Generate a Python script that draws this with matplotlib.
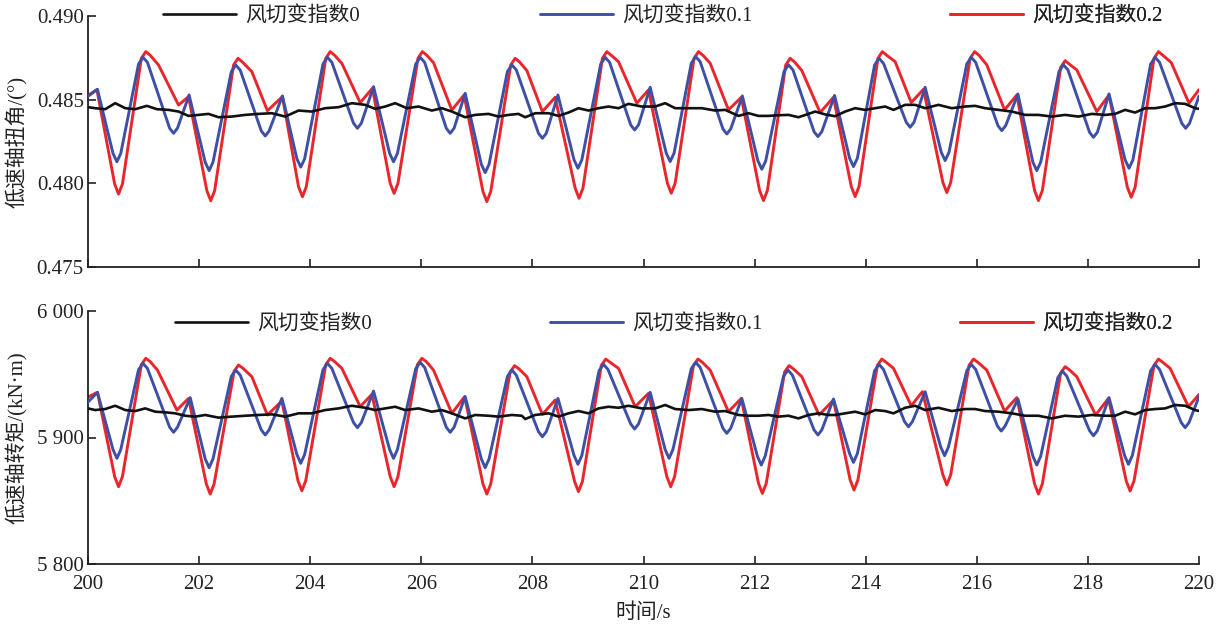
import matplotlib
matplotlib.use('Agg')
import matplotlib.pyplot as plt
from matplotlib.ticker import FuncFormatter, FixedLocator

plt.rcParams['font.family'] = ['Liberation Serif', 'Noto Sans CJK SC']
plt.rcParams['axes.unicode_minus'] = False

# ---------------- data: top panel, low-speed shaft torsion angle (deg) ----------------
t_ang_0 = [200.00, 200.13, 200.31, 200.49, 200.67, 200.85, 201.06, 201.24, 201.45, 201.63,
           201.81, 201.99, 202.17, 202.35, 202.59, 202.83, 203.07, 203.31, 203.55, 203.79,
           204.03, 204.27, 204.51, 204.75, 204.99, 205.17, 205.35, 205.53, 205.74, 205.95,
           206.19, 206.37, 206.55, 206.79, 206.97, 207.21, 207.39, 207.57, 207.75, 207.87,
           208.05, 208.29, 208.47, 208.65, 208.83, 209.01, 209.19, 209.37, 209.55, 209.73,
           209.97, 210.21, 210.39, 210.57, 210.81, 211.05, 211.29, 211.47, 211.71, 211.89,
           212.07, 212.25, 212.43, 212.61, 212.79, 212.97, 213.09, 213.27, 213.45, 213.63,
           213.81, 213.99, 214.17, 214.35, 214.50, 214.71, 214.89, 215.07, 215.31, 215.55,
           215.79, 215.97, 216.15, 216.39, 216.63, 216.87, 217.11, 217.35, 217.59, 217.83,
           218.07, 218.31, 218.49, 218.67, 218.85, 219.03, 219.21, 219.39, 219.57, 219.75,
           219.93, 220.00]
v_ang_0 = [0.48455, 0.48449, 0.48443, 0.48479, 0.48449, 0.48443, 0.48463, 0.48443, 0.48439, 0.48429,
           0.48403, 0.48409, 0.48415, 0.48395, 0.48399, 0.48409, 0.48415, 0.48419, 0.48399, 0.48435,
           0.48429, 0.48449, 0.48455, 0.48479, 0.48469, 0.48445, 0.48459, 0.48479, 0.48449, 0.48459,
           0.48435, 0.48449, 0.48429, 0.48395, 0.48409, 0.48415, 0.48399, 0.48409, 0.48415, 0.48395,
           0.48419, 0.48419, 0.48403, 0.48423, 0.48449, 0.48435, 0.48449, 0.48459, 0.48449, 0.48475,
           0.48459, 0.48459, 0.48479, 0.48449, 0.48449, 0.48449, 0.48435, 0.48439, 0.48403, 0.48419,
           0.48403, 0.48403, 0.48407, 0.48409, 0.48395, 0.48415, 0.48429, 0.48412, 0.48401, 0.48429,
           0.48449, 0.48439, 0.48449, 0.48459, 0.48439, 0.48469, 0.48469, 0.48449, 0.48469, 0.48449,
           0.48459, 0.48463, 0.48449, 0.48439, 0.48429, 0.48409, 0.48409, 0.48399, 0.48409, 0.48399,
           0.48415, 0.48409, 0.48415, 0.48439, 0.48423, 0.48449, 0.48449, 0.48459, 0.48479, 0.48475,
           0.48449, 0.48445]

t_ang_01 = [200.00, 200.17,
            200.45, 200.52, 200.59, 200.91, 200.99, 201.07, 201.47, 201.54, 201.61, 201.82,
            202.11, 202.18, 202.25, 202.58, 202.66, 202.74, 203.12, 203.19, 203.26, 203.50,
            203.76, 203.83, 203.90, 204.23, 204.31, 204.39, 204.78, 204.85, 204.92, 205.14,
            205.43, 205.50, 205.57, 205.90, 205.98, 206.06, 206.45, 206.52, 206.59, 206.79,
            207.08, 207.15, 207.22, 207.55, 207.63, 207.71, 208.11, 208.18, 208.25, 208.46,
            208.75, 208.82, 208.89, 209.23, 209.31, 209.39, 209.77, 209.84, 209.91, 210.12,
            210.41, 210.48, 210.55, 210.86, 210.94, 211.02, 211.43, 211.50, 211.57, 211.78,
            212.06, 212.13, 212.20, 212.53, 212.61, 212.69, 213.07, 213.14, 213.21, 213.44,
            213.71, 213.78, 213.85, 214.16, 214.24, 214.32, 214.73, 214.80, 214.87, 215.07,
            215.36, 215.43, 215.50, 215.82, 215.90, 215.98, 216.38, 216.45, 216.52, 216.74,
            217.01, 217.08, 217.15, 217.48, 217.56, 217.64, 218.03, 218.10, 218.17, 218.38,
            218.67, 218.74, 218.81, 219.13, 219.21, 219.29, 219.69, 219.76, 219.83, 220.00]
v_ang_01 = [0.48520, 0.48562,
            0.48179, 0.48129, 0.48179, 0.48713, 0.48753, 0.48723, 0.48329, 0.48299, 0.48329, 0.48528,
            0.48126, 0.48076, 0.48126, 0.48667, 0.48707, 0.48677, 0.48313, 0.48283, 0.48313, 0.48522,
            0.48147, 0.48097, 0.48147, 0.48713, 0.48753, 0.48723, 0.48359, 0.48329, 0.48359, 0.48578,
            0.48179, 0.48129, 0.48179, 0.48713, 0.48753, 0.48723, 0.48329, 0.48299, 0.48329, 0.48538,
            0.48114, 0.48064, 0.48114, 0.48668, 0.48708, 0.48678, 0.48299, 0.48269, 0.48299, 0.48528,
            0.48140, 0.48090, 0.48140, 0.48713, 0.48753, 0.48723, 0.48349, 0.48319, 0.48349, 0.48574,
            0.48180, 0.48130, 0.48180, 0.48717, 0.48757, 0.48727, 0.48325, 0.48295, 0.48325, 0.48522,
            0.48134, 0.48084, 0.48134, 0.48668, 0.48708, 0.48678, 0.48309, 0.48279, 0.48309, 0.48525,
            0.48150, 0.48100, 0.48150, 0.48707, 0.48747, 0.48717, 0.48365, 0.48335, 0.48365, 0.48574,
            0.48186, 0.48136, 0.48186, 0.48713, 0.48753, 0.48723, 0.48345, 0.48315, 0.48345, 0.48534,
            0.48126, 0.48076, 0.48126, 0.48668, 0.48708, 0.48678, 0.48305, 0.48275, 0.48305, 0.48534,
            0.48140, 0.48090, 0.48140, 0.48713, 0.48753, 0.48723, 0.48359, 0.48329, 0.48359, 0.48522]

t_ang_02 = [200.00, 200.16,
            200.48, 200.55, 200.62, 200.96, 201.04, 201.12, 201.27, 201.63, 201.81,
            202.14, 202.21, 202.28, 202.62, 202.70, 202.78, 202.95, 203.23, 203.50,
            203.79, 203.86, 203.93, 204.28, 204.36, 204.44, 204.57, 204.90, 205.12,
            205.44, 205.51, 205.58, 205.94, 206.02, 206.10, 206.22, 206.55, 206.77,
            207.11, 207.18, 207.25, 207.61, 207.69, 207.77, 207.90, 208.18, 208.41,
            208.77, 208.84, 208.91, 209.26, 209.34, 209.42, 209.55, 209.88, 210.09,
            210.43, 210.50, 210.57, 210.91, 210.99, 211.07, 211.20, 211.53, 211.76,
            212.09, 212.16, 212.23, 212.56, 212.64, 212.72, 212.85, 213.18, 213.42,
            213.74, 213.81, 213.88, 214.22, 214.30, 214.38, 214.53, 214.82, 215.04,
            215.39, 215.46, 215.53, 215.88, 215.96, 216.04, 216.18, 216.50, 216.72,
            217.04, 217.11, 217.18, 217.51, 217.59, 217.67, 217.80, 218.16, 218.38,
            218.71, 218.78, 218.85, 219.19, 219.27, 219.35, 219.50, 219.82, 220.00]
v_ang_02 = [0.48525, 0.48560,
            0.47996, 0.47936, 0.47996, 0.48747, 0.48787, 0.48765, 0.48707, 0.48468, 0.48518,
            0.47956, 0.47896, 0.47956, 0.48707, 0.48747, 0.48725, 0.48667, 0.48434, 0.48518,
            0.47980, 0.47920, 0.47980, 0.48747, 0.48787, 0.48765, 0.48717, 0.48482, 0.48568,
            0.48000, 0.47940, 0.48000, 0.48747, 0.48787, 0.48765, 0.48721, 0.48438, 0.48528,
            0.47951, 0.47891, 0.47951, 0.48707, 0.48747, 0.48725, 0.48674, 0.48429, 0.48514,
            0.47971, 0.47911, 0.47971, 0.48747, 0.48787, 0.48765, 0.48727, 0.48479, 0.48558,
            0.48001, 0.47941, 0.48001, 0.48747, 0.48787, 0.48765, 0.48718, 0.48439, 0.48514,
            0.47957, 0.47897, 0.47957, 0.48707, 0.48747, 0.48725, 0.48674, 0.48423, 0.48514,
            0.47981, 0.47921, 0.47981, 0.48747, 0.48787, 0.48765, 0.48727, 0.48483, 0.48562,
            0.48005, 0.47945, 0.48005, 0.48747, 0.48787, 0.48765, 0.48708, 0.48439, 0.48528,
            0.47957, 0.47897, 0.47957, 0.48693, 0.48733, 0.48711, 0.48678, 0.48429, 0.48528,
            0.47977, 0.47917, 0.47977, 0.48747, 0.48787, 0.48765, 0.48722, 0.48479, 0.48560]

# ---------------- data: bottom panel, low-speed shaft torque (kN·m) ----------------
t_trq_0 = [200.00, 200.13, 200.31, 200.49, 200.67, 200.85, 201.03, 201.21, 201.39, 201.57,
           201.75, 201.93, 202.11, 202.35, 202.59, 202.83, 203.07, 203.31, 203.55, 203.79,
           204.03, 204.27, 204.51, 204.75, 204.99, 205.17, 205.35, 205.53, 205.71, 205.95,
           206.19, 206.37, 206.55, 206.79, 206.97, 207.21, 207.39, 207.63, 207.81, 207.87,
           208.05, 208.29, 208.47, 208.65, 208.83, 209.01, 209.19, 209.37, 209.55, 209.73,
           209.97, 210.21, 210.39, 210.57, 210.81, 211.05, 211.29, 211.47, 211.71, 211.89,
           212.07, 212.25, 212.43, 212.61, 212.79, 212.97, 213.15, 213.33, 213.45, 213.63,
           213.81, 213.99, 214.17, 214.35, 214.50, 214.71, 214.89, 215.07, 215.31, 215.55,
           215.79, 215.97, 216.15, 216.39, 216.63, 216.87, 217.11, 217.35, 217.59, 217.83,
           218.07, 218.31, 218.49, 218.67, 218.85, 219.03, 219.21, 219.39, 219.57, 219.75,
           219.93, 220.00]
v_trq_0 = [5923.0, 5921.7, 5922.5, 5925.1, 5921.7, 5920.9, 5923.0, 5920.4, 5919.9, 5919.1,
           5917.2, 5916.5, 5917.8, 5915.7, 5916.5, 5917.2, 5917.8, 5918.3, 5916.5, 5919.1,
           5919.1, 5921.7, 5923.0, 5925.1, 5923.5, 5921.7, 5923.0, 5924.3, 5921.7, 5923.0,
           5920.4, 5921.7, 5919.1, 5915.1, 5917.8, 5917.2, 5916.5, 5917.8, 5917.2, 5914.6,
           5917.8, 5919.1, 5916.5, 5919.1, 5920.9, 5919.1, 5923.0, 5924.3, 5923.5, 5925.1,
           5923.0, 5923.0, 5925.7, 5922.5, 5921.7, 5922.5, 5920.4, 5920.9, 5917.8, 5917.2,
           5917.2, 5917.8, 5916.5, 5917.2, 5915.1, 5917.8, 5919.1, 5917.8, 5917.8, 5919.1,
           5920.4, 5918.3, 5921.7, 5920.9, 5919.1, 5923.5, 5925.1, 5921.7, 5923.5, 5920.9,
           5922.5, 5922.5, 5920.9, 5920.4, 5919.1, 5917.2, 5917.2, 5915.1, 5917.2, 5916.5,
           5917.8, 5917.2, 5917.2, 5920.4, 5918.3, 5921.7, 5922.5, 5923.0, 5925.7, 5925.1,
           5921.7, 5921.0]

t_trq_01 = [200.00, 200.17,
            200.45, 200.52, 200.59, 200.91, 200.99, 201.07, 201.47, 201.54, 201.61, 201.84,
            202.11, 202.18, 202.25, 202.58, 202.66, 202.74, 203.12, 203.19, 203.26, 203.49,
            203.76, 203.83, 203.90, 204.23, 204.31, 204.39, 204.78, 204.85, 204.92, 205.14,
            205.43, 205.50, 205.57, 205.90, 205.98, 206.06, 206.45, 206.52, 206.59, 206.79,
            207.08, 207.15, 207.22, 207.55, 207.63, 207.71, 208.11, 208.18, 208.25, 208.46,
            208.75, 208.82, 208.89, 209.20, 209.28, 209.36, 209.77, 209.84, 209.91, 210.12,
            210.39, 210.46, 210.53, 210.86, 210.94, 211.02, 211.43, 211.50, 211.57, 211.77,
            212.05, 212.12, 212.19, 212.52, 212.60, 212.68, 213.07, 213.14, 213.21, 213.42,
            213.71, 213.78, 213.85, 214.16, 214.24, 214.32, 214.70, 214.77, 214.84, 215.07,
            215.35, 215.42, 215.49, 215.82, 215.90, 215.98, 216.37, 216.44, 216.51, 216.74,
            217.01, 217.08, 217.15, 217.46, 217.54, 217.62, 218.03, 218.10, 218.17, 218.38,
            218.66, 218.73, 218.80, 219.13, 219.21, 219.29, 219.68, 219.75, 219.82, 220.00]
v_trq_01 = [5928.0, 5935.7,
            5890.5, 5883.5, 5890.5, 5953.6, 5958.6, 5954.6, 5908.1, 5904.1, 5908.1, 5931.5,
            5883.1, 5876.1, 5883.1, 5948.3, 5953.3, 5949.3, 5906.0, 5902.0, 5906.0, 5930.9,
            5886.6, 5879.6, 5886.6, 5953.6, 5958.6, 5954.6, 5911.8, 5907.8, 5911.8, 5936.7,
            5890.5, 5883.5, 5890.5, 5954.4, 5959.4, 5955.4, 5908.1, 5904.1, 5908.1, 5932.3,
            5883.1, 5876.1, 5883.1, 5948.3, 5953.3, 5949.3, 5904.6, 5900.6, 5904.6, 5930.9,
            5885.8, 5878.8, 5885.8, 5952.8, 5957.8, 5953.8, 5910.7, 5906.7, 5910.7, 5935.7,
            5890.5, 5883.5, 5890.5, 5954.4, 5959.4, 5955.4, 5907.3, 5903.3, 5907.3, 5930.9,
            5885.2, 5878.2, 5885.2, 5948.3, 5953.3, 5949.3, 5906.0, 5902.0, 5906.0, 5930.4,
            5887.3, 5880.3, 5887.3, 5952.8, 5957.8, 5953.8, 5912.5, 5908.5, 5912.5, 5936.2,
            5892.6, 5885.6, 5892.6, 5952.8, 5957.8, 5953.8, 5909.1, 5905.1, 5909.1, 5930.4,
            5885.2, 5878.2, 5885.2, 5947.5, 5952.5, 5948.5, 5905.4, 5901.4, 5905.4, 5931.5,
            5885.8, 5878.8, 5885.8, 5952.8, 5957.8, 5953.8, 5911.8, 5907.8, 5911.8, 5932.3]

t_trq_02 = [200.00, 200.17,
            200.48, 200.55, 200.62, 200.96, 201.04, 201.12, 201.25, 201.60, 201.81,
            202.13, 202.20, 202.27, 202.63, 202.71, 202.79, 202.95, 203.23, 203.49,
            203.78, 203.85, 203.92, 204.28, 204.36, 204.44, 204.57, 204.90, 205.11,
            205.44, 205.51, 205.58, 205.93, 206.01, 206.09, 206.22, 206.55, 206.78,
            207.11, 207.18, 207.25, 207.60, 207.68, 207.76, 207.90, 208.18, 208.41,
            208.76, 208.83, 208.90, 209.24, 209.32, 209.40, 209.55, 209.85, 210.09,
            210.42, 210.49, 210.56, 210.90, 210.98, 211.06, 211.20, 211.53, 211.76,
            212.07, 212.14, 212.21, 212.54, 212.62, 212.70, 212.85, 213.16, 213.42,
            213.72, 213.79, 213.86, 214.21, 214.29, 214.37, 214.50, 214.82, 215.02,
            215.39, 215.46, 215.53, 215.86, 215.94, 216.02, 216.18, 216.50, 216.72,
            217.04, 217.11, 217.18, 217.51, 217.59, 217.67, 217.80, 218.14, 218.37,
            218.69, 218.76, 218.83, 219.19, 219.27, 219.35, 219.48, 219.81, 220.00]
v_trq_02 = [5932.0, 5935.7,
            5869.1, 5861.1, 5869.1, 5957.6, 5962.6, 5960.0, 5953.3, 5921.7, 5930.9,
            5863.3, 5855.3, 5863.3, 5952.3, 5957.3, 5954.7, 5948.1, 5917.8, 5928.8,
            5865.9, 5857.9, 5865.9, 5957.6, 5962.6, 5960.0, 5954.7, 5924.4, 5934.1,
            5869.1, 5861.1, 5869.1, 5957.6, 5962.6, 5960.0, 5953.3, 5919.1, 5932.3,
            5863.3, 5855.3, 5863.3, 5951.8, 5956.8, 5954.2, 5948.1, 5918.3, 5929.6,
            5865.2, 5857.2, 5865.2, 5957.0, 5962.0, 5959.4, 5954.7, 5924.4, 5934.9,
            5869.1, 5861.1, 5869.1, 5957.0, 5962.0, 5959.4, 5953.3, 5920.4, 5930.9,
            5863.8, 5855.8, 5863.8, 5951.8, 5956.8, 5954.2, 5948.1, 5917.8, 5929.6,
            5866.5, 5858.5, 5866.5, 5957.0, 5962.0, 5959.4, 5954.7, 5925.1, 5936.2,
            5870.5, 5862.5, 5870.5, 5957.0, 5962.0, 5959.4, 5953.3, 5920.9, 5931.5,
            5863.3, 5855.3, 5863.3, 5951.0, 5956.0, 5953.4, 5948.1, 5917.8, 5930.9,
            5865.7, 5857.7, 5865.7, 5957.0, 5962.0, 5959.4, 5954.7, 5924.4, 5934.0]

labels = ['风切变指数0', '风切变指数0.1', '风切变指数0.2']
x_ticks = [200, 202, 204, 206, 208, 210, 212, 214, 216, 218, 220]
ang_ticks = [0.475, 0.480, 0.485, 0.490]
trq_ticks = [5800, 5900, 6000]

C_BLACK = '#111111'
C_BLUE = '#3E50A6'
C_RED = '#E8262B'
TXT = '#222222'
FS = 15

W, H = 1226, 626
fig = plt.figure(figsize=(W / 100, H / 100), dpi=100)
ax1 = fig.add_axes([88 / W, 1 - 267 / H, 1111 / W, 251 / H])
ax2 = fig.add_axes([88 / W, 1 - 564 / H, 1111 / W, 253 / H])


def style(ax):
    for s in ['top', 'right']:
        ax.spines[s].set_visible(False)
    for s in ['left', 'bottom']:
        ax.spines[s].set_linewidth(1.3)
        ax.spines[s].set_color('#222222')
    ax.tick_params(direction='in', length=6, width=1.2, colors='#222222',
                   labelcolor=TXT, labelsize=FS)
    ax.tick_params(axis='y', pad=3)
    ax.tick_params(axis='x', pad=8)
    ax.set_xlim(200, 220)
    ax.xaxis.set_major_locator(FixedLocator(x_ticks))


def add_legends(ax, lines, xs, y):
    for ln, lab, x in zip(lines, labels, xs):
        leg = ax.legend([ln], [lab], loc='center left', bbox_to_anchor=(x, y),
                        frameon=False, handlelength=3.5, handletextpad=0.45,
                        borderpad=0, borderaxespad=0, fontsize=FS, labelcolor=TXT)
        ax.add_artist(leg)


kw = dict(solid_joinstyle='round', solid_capstyle='round')

# top panel
r1, = ax1.plot(t_ang_02, v_ang_02, color=C_RED, lw=2.1, zorder=2, **kw)
b1, = ax1.plot(t_ang_01, v_ang_01, color=C_BLUE, lw=2.1, zorder=3, **kw)
k1, = ax1.plot(t_ang_0, v_ang_0, color=C_BLACK, lw=1.9, zorder=4, **kw)
style(ax1)
ax1.set_ylim(0.475, 0.490)
ax1.yaxis.set_major_locator(FixedLocator(ang_ticks))
ax1.yaxis.set_major_formatter(FuncFormatter(lambda v, p: f'{v:.3f}'))
ax1.tick_params(axis='x', labelbottom=False)
ax1.set_ylabel('低速轴扭角/(°)', fontsize=FS, color=TXT)
ax1.yaxis.set_label_coords(-0.054, 0.5)
add_legends(ax1, [k1, b1, r1], [0.0675, 0.407, 0.776], 1.0)

# bottom panel
r2, = ax2.plot(t_trq_02, v_trq_02, color=C_RED, lw=2.1, zorder=2, **kw)
b2, = ax2.plot(t_trq_01, v_trq_01, color=C_BLUE, lw=2.1, zorder=3, **kw)
k2, = ax2.plot(t_trq_0, v_trq_0, color=C_BLACK, lw=1.9, zorder=4, **kw)
style(ax2)
ax2.set_ylim(5800, 6000)
ax2.yaxis.set_major_locator(FixedLocator(trq_ticks))
ax2.yaxis.set_major_formatter(FuncFormatter(lambda v, p: f'{int(round(v)):,}'.replace(',', ' ')))
ax2.set_ylabel('低速轴转矩/(kN·m)', fontsize=FS, color=TXT)
ax2.yaxis.set_label_coords(-0.054, 0.5)
ax2.set_xlabel('时间/s', fontsize=FS, color=TXT)
ax2.xaxis.set_label_coords(0.5, -0.155)
add_legends(ax2, [k2, b2, r2], [0.0783, 0.416, 0.785], 0.949)

fig.savefig('out.png', dpi=100, facecolor='white')
